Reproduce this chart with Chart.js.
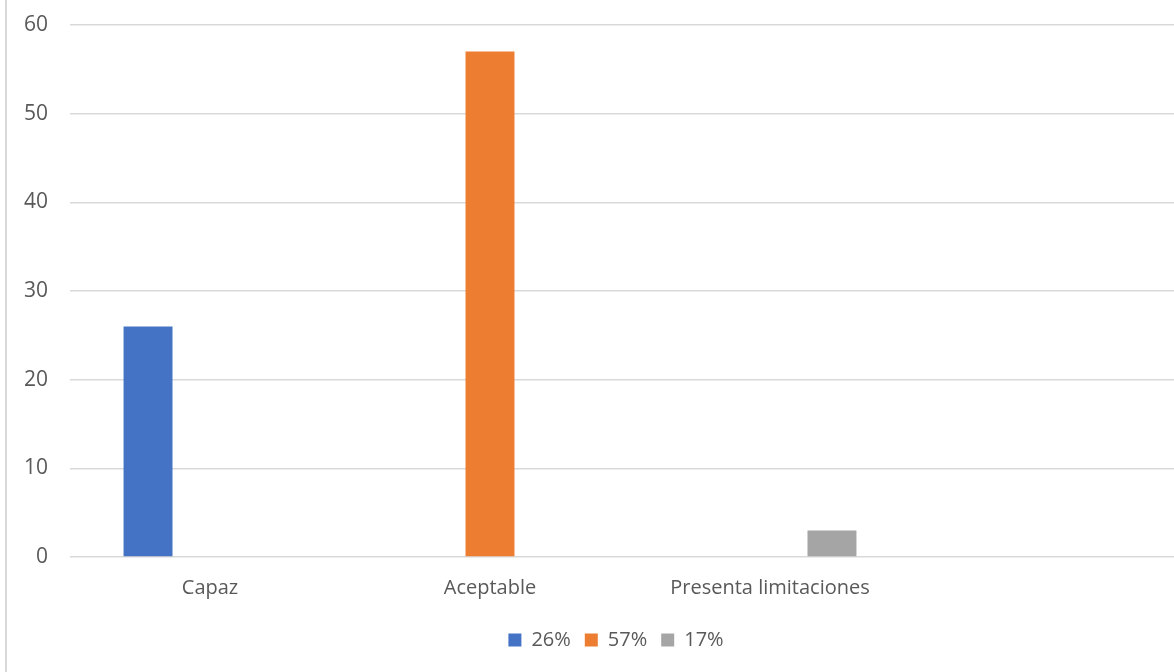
<!DOCTYPE html>
<html>
<head>
<meta charset="utf-8">
<script src="https://cdn.jsdelivr.net/npm/chart.js@4/dist/chart.umd.min.js"></script>
<style>
  html, body { margin: 0; padding: 0; background: #fff; overflow: hidden; }
  #frame { position: absolute; left: 5px; top: -10px; width: 1240px; height: 700px; border-left: 2px solid #d9d9d9; }
  #wrap { position: absolute; left: 0; top: 0; width: 1232px; height: 672px; }
</style>
</head>
<body>
<div id="frame"></div>
<div id="wrap"><canvas id="chart"></canvas></div>
<script>
// --- Data ---
const categories = ['Capaz', 'Aceptable', 'Presenta limitaciones', ''];
const seriesNames = ['26%', '57%', '17%'];
const capazValues = [26, null, null, null];
const aceptableValues = [null, 57, null, null];
const limitacionesValues = [null, null, 3, null];
const yTicks = [0, 10, 20, 30, 40, 50, 60];

const colors = ['#4472C4', '#ED7D31', '#A5A5A5'];
const textColor = '#595959';
const gridColor = '#d9d9d9';
const fontFamily = "'Open Sans', 'Liberation Sans', sans-serif";

const ctx = document.getElementById('chart').getContext('2d');
new Chart(ctx, {
    type: 'bar',
    data: {
        labels: categories,
        datasets: [
            { label: seriesNames[0], data: capazValues, backgroundColor: colors[0] },
            { label: seriesNames[1], data: aceptableValues, backgroundColor: colors[1] },
            { label: seriesNames[2], data: limitacionesValues, backgroundColor: colors[2] }
        ]
    },
    options: {
        responsive: true,
        maintainAspectRatio: false,
        animation: false,
        categoryPercentage: 0.664,
        barPercentage: 0.79,
        layout: { padding: { left: 0, right: 0, top: 25, bottom: 12 } },
        plugins: {
            tooltip: { enabled: false },
            legend: {
                position: 'bottom',
                labels: {
                    color: textColor,
                    font: { family: fontFamily, size: 20 },
                    boxWidth: 13,
                    boxHeight: 13,
                    padding: 14
                }
            }
        },
        scales: {
            x: {
                afterFit: axis => { axis.height = axis.height - 3; },
                grid: { display: false, drawTicks: false },
                border: { display: false },
                ticks: {
                    color: textColor,
                    font: { family: fontFamily, size: 20 },
                    padding: 19,
                    maxRotation: 0
                }
            },
            y: {
                min: yTicks[0],
                max: yTicks[yTicks.length - 1],
                afterBuildTicks: axis => { axis.ticks = yTicks.map(v => ({ value: v })); },
                afterFit: axis => { axis.width = 70; axis.paddingTop = 0; },
                grid: { color: gridColor, lineWidth: 1.5, drawTicks: false },
                border: { display: false },
                ticks: {
                    color: textColor,
                    font: { family: fontFamily, size: 21 },
                    padding: 22
                }
            },
            // empty space on the right so the legend stays centred on the whole chart
            spacer: {
                type: 'linear',
                position: 'right',
                afterFit: axis => { axis.width = 42; axis.paddingTop = 0; },
                grid: { display: false, drawTicks: false },
                border: { display: false },
                ticks: { display: false }
            }
        }
    }
});
</script>
</body>
</html>
